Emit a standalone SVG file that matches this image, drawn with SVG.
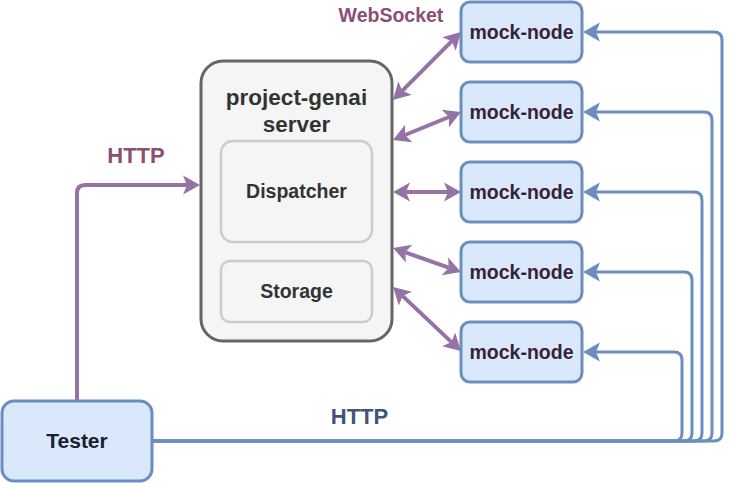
<svg xmlns="http://www.w3.org/2000/svg" width="732" height="483" viewBox="0 0 732 483">
<style>
text{font-family:"Liberation Sans",Arial,Helvetica,sans-serif;font-weight:bold;text-anchor:middle}
.mock rect{fill:#dae8fc;stroke:#6c8ebf;stroke-width:3}
.mock text{font-size:19.5px;fill:#3a1f35}
.srv{fill:#f5f5f5;stroke:#666666;stroke-width:3}
.inner{fill:#f5f5f5;stroke:#cccccc;stroke-width:2.5}
.stxt{fill:#333333}
.blue{fill:none;stroke:#6c8ebf;stroke-width:3}
.purple{fill:none;stroke:#9673a6;stroke-width:4}
.lblp{fill:#8b4f73}
.lblb{fill:#3f5577}
</style>
<defs>
<marker id="ab" markerUnits="userSpaceOnUse" markerWidth="20" markerHeight="22" viewBox="-5 -11 20 22" refX="0" refY="0" orient="auto-start-reverse">
<path d="M13,0 L-4,-9.5 L0,0 L-4,9.5 Z" fill="#6c8ebf"/>
</marker>
<marker id="ap" markerUnits="userSpaceOnUse" markerWidth="20" markerHeight="22" viewBox="-5 -11 20 22" refX="0" refY="0" orient="auto-start-reverse">
<path d="M13,0 L-4,-9.5 L0,0 L-4,9.5 Z" fill="#9673a6"/>
</marker>
</defs>

<g id="connectors">
<path class="purple" d="M77,401 V193 Q77,185 85,185 H187" marker-end="url(#ap)"/>
<path class="purple" d="M402.2,90.8 L451.8,41.2" marker-start="url(#ap)" marker-end="url(#ap)"/>
<path class="purple" d="M405,135 L449,117" marker-start="url(#ap)" marker-end="url(#ap)"/>
<path class="purple" d="M406,192 L448,192" marker-start="url(#ap)" marker-end="url(#ap)"/>
<path class="purple" d="M405.3,252.3 L448.7,267.7" marker-start="url(#ap)" marker-end="url(#ap)"/>
<path class="purple" d="M402.5,295.9 L451.5,342.1" marker-start="url(#ap)" marker-end="url(#ap)"/>
<path class="blue" d="M152,441 H714 Q722,441 722,433 V40 Q722,32 714,32 H596" marker-end="url(#ab)"/>
<path class="blue" d="M152,441 H704 Q712,441 712,433 V120 Q712,112 704,112 H596" marker-end="url(#ab)"/>
<path class="blue" d="M152,441 H694 Q702,441 702,433 V200 Q702,192 694,192 H596" marker-end="url(#ab)"/>
<path class="blue" d="M152,441 H684 Q692,441 692,433 V280 Q692,272 684,272 H596" marker-end="url(#ab)"/>
<path class="blue" d="M152,441 H674 Q682,441 682,433 V360 Q682,352 674,352 H596" marker-end="url(#ab)"/>
<text class="lblp" x="136" y="163" font-size="22px">HTTP</text>
<text class="lblp" x="391" y="22" font-size="19.5px">WebSocket</text>
<text class="lblb" x="359.5" y="424" font-size="22px">HTTP</text>
</g>

<g id="server">
<rect class="srv" x="201" y="61" width="191" height="280" rx="22"/>
<text class="stxt" x="296.5" y="105" font-size="22.5px">project-genai</text>
<text class="stxt" x="296.5" y="132" font-size="22.5px">server</text>
</g>
<g id="dispatcher">
<rect class="inner" x="221" y="141" width="151" height="101" rx="12"/>
<text class="stxt" x="296.5" y="198" font-size="19.5px">Dispatcher</text>
</g>
<g id="storage">
<rect class="inner" x="221" y="261" width="151" height="61" rx="9"/>
<text class="stxt" x="296.5" y="298" font-size="19.5px">Storage</text>
</g>

<g id="mock1" class="mock"><rect x="461" y="2" width="121" height="60" rx="9"/><text x="521.5" y="39">mock-node</text></g>
<g id="mock2" class="mock"><rect x="461" y="82" width="121" height="60" rx="9"/><text x="521.5" y="119">mock-node</text></g>
<g id="mock3" class="mock"><rect x="461" y="162" width="121" height="60" rx="9"/><text x="521.5" y="199">mock-node</text></g>
<g id="mock4" class="mock"><rect x="461" y="242" width="121" height="60" rx="9"/><text x="521.5" y="279">mock-node</text></g>
<g id="mock5" class="mock"><rect x="461" y="322" width="121" height="60" rx="9"/><text x="521.5" y="359">mock-node</text></g>

<g id="tester">
<rect x="2" y="401" width="150" height="80" rx="12" fill="#dae8fc" stroke="#6c8ebf" stroke-width="3"/>
<text x="77" y="448" font-size="21px" fill="#1a2030">Tester</text>
</g>
</svg>
